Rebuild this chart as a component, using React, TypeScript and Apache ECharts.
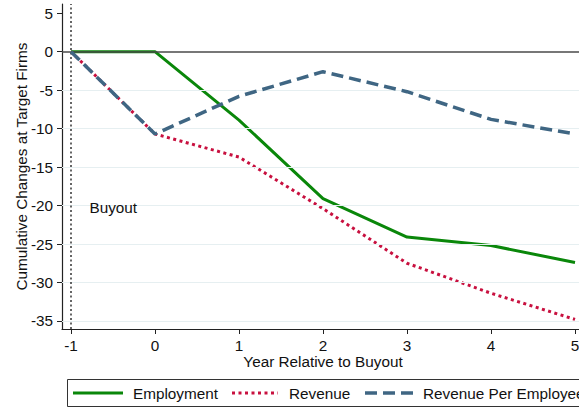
import React, { useEffect, useRef } from "react";
import * as echarts from "echarts";

const years = [-1, 0, 1, 2, 3, 4, 5];
const employment = [0, 0, -8.9, -19.1, -24.1, -25.2, -27.4];
const revenue = [0, -10.7, -13.7, -20.4, -27.5, -31.4, -34.8];
const revenuePerEmployee = [0, -10.7, -5.8, -2.6, -5.2, -8.8, -10.7];
const yTicks = [-35, -30, -25, -20, -15, -10, -5, 0, 5];
const gridValues = [-35, -30, -25, -20, -15, -10, -5];
const seriesNames = ["Employment", "Revenue", "Revenue Per Employee"];
const buyoutYear = -1;
const buyoutLabel = "Buyout";

const FONT = "'Liberation Sans', Arial, Helvetica, sans-serif";
const FS = 15.3;
const GREEN = "#0a870a";
const RED = "#c8103f";
const BLUE = "#3f6683";

export default function App() {
  const ref = useRef<HTMLDivElement>(null);
  useEffect(() => {
    if (!ref.current) return;
    const chart = echarts.init(ref.current, undefined, { renderer: "svg" });
    const pairs = (arr: number[]) => years.map((x, i) => [x, arr[i]]);
    chart.setOption({
      animation: false,
      backgroundColor: "#ffffff",
      textStyle: { fontFamily: FONT },
      grid: { left: 62, right: 16, top: 4, bottom: 81, containLabel: false, outerBoundsMode: "none" },
      xAxis: {
        type: "value",
        min: -1.107,
        max: 5.107,
        name: "Year Relative to Buyout",
        nameLocation: "middle",
        nameGap: 25,
        nameMoveOverlap: false,
        nameTextStyle: { fontSize: FS, color: "#111", fontFamily: FONT },
        axisLine: { show: true, onZero: false, lineStyle: { color: "#222", width: 1.2 } },
        axisTick: { show: true, length: 5, customValues: years, lineStyle: { color: "#222" } },
        axisLabel: { customValues: years, margin: 9, fontSize: FS, color: "#111", fontFamily: FONT },
        splitLine: { show: false },
      },
      yAxis: {
        type: "value",
        min: -36.05,
        max: 6.2,
        name: "Cumulative Changes at Target Firms",
        nameLocation: "middle",
        nameGap: 33,
        nameMoveOverlap: false,
        nameTextStyle: { fontSize: FS, color: "#111", fontFamily: FONT },
        axisLine: { show: true, onZero: false, lineStyle: { color: "#222", width: 1.2 } },
        axisTick: { show: true, length: 5, customValues: yTicks, lineStyle: { color: "#222" } },
        axisLabel: { customValues: yTicks, margin: 9, fontSize: FS, color: "#111", fontFamily: FONT },
        splitLine: { show: false },
      },
      series: [
        {
          type: "line",
          name: "_ref",
          z: 1,
          data: pairs(employment),
          showSymbol: false,
          lineStyle: { opacity: 0 },
          silent: true,
          markLine: {
            silent: true,
            symbol: "none",
            label: { show: false },
            data: [
              ...gridValues.map((v) => ({ yAxis: v, lineStyle: { color: "#e6eff1", width: 1, type: "solid" } })),
              { yAxis: 0, lineStyle: { color: "#4a4a4a", width: 1.5, type: "solid" } },
              { xAxis: buyoutYear, lineStyle: { color: "#333", width: 1.5, type: [2, 2.5] } },
            ],
          },
          markPoint: {
            silent: true,
            symbol: "circle",
            symbolSize: 1,
            itemStyle: { color: "rgba(0,0,0,0)" },
            label: {
              show: true,
              position: "right",
              distance: 0,
              formatter: buyoutLabel,
              fontSize: FS,
              color: "#111",
              fontFamily: FONT,
            },
            data: [{ coord: [-0.786, -20.2] }],
          },
        },
        {
          type: "line",
          name: seriesNames[0],
          z: 3,
          data: pairs(employment),
          showSymbol: false,
          lineStyle: { color: GREEN, width: 3, type: "solid" },
        },
        {
          type: "line",
          name: seriesNames[1],
          z: 4,
          data: pairs(revenue),
          showSymbol: false,
          lineStyle: { color: RED, width: 3, type: [3, 3.5] },
        },
        {
          type: "line",
          name: seriesNames[2],
          z: 5,
          data: pairs(revenuePerEmployee),
          showSymbol: false,
          lineStyle: { color: BLUE, width: 3.5, type: [12, 6] },
        },
      ],
      graphic: [
        {
          type: "rect",
          shape: { x: 67.5, y: 379.5, width: 560, height: 27 },
          style: { fill: "#fff", stroke: "#333", lineWidth: 1 },
        },
        { type: "line", shape: { x1: 73, y1: 393, x2: 123, y2: 393 }, style: { stroke: GREEN, lineWidth: 3 } },
        { type: "text", x: 133, y: 393, style: { text: seriesNames[0], fontSize: FS, fontFamily: FONT, fill: "#111", verticalAlign: "middle" } },
        { type: "line", shape: { x1: 232, y1: 393, x2: 278, y2: 393 }, style: { stroke: RED, lineWidth: 3, lineDash: [3, 3.5] } },
        { type: "text", x: 289, y: 393, style: { text: seriesNames[1], fontSize: FS, fontFamily: FONT, fill: "#111", verticalAlign: "middle" } },
        { type: "line", shape: { x1: 365, y1: 393, x2: 413, y2: 393 }, style: { stroke: BLUE, lineWidth: 3.5, lineDash: [12, 6] } },
        { type: "text", x: 423, y: 393, style: { text: seriesNames[2], fontSize: FS, fontFamily: FONT, fill: "#111", verticalAlign: "middle" } },
      ],
    });
    return () => chart.dispose();
  }, []);
  return (
    <div style={{ position: "fixed", left: 0, top: 0, width: 579, height: 410, overflow: "hidden", background: "#fff" }}>
      <div ref={ref} style={{ width: 600, height: 410 }} />
    </div>
  );
}
